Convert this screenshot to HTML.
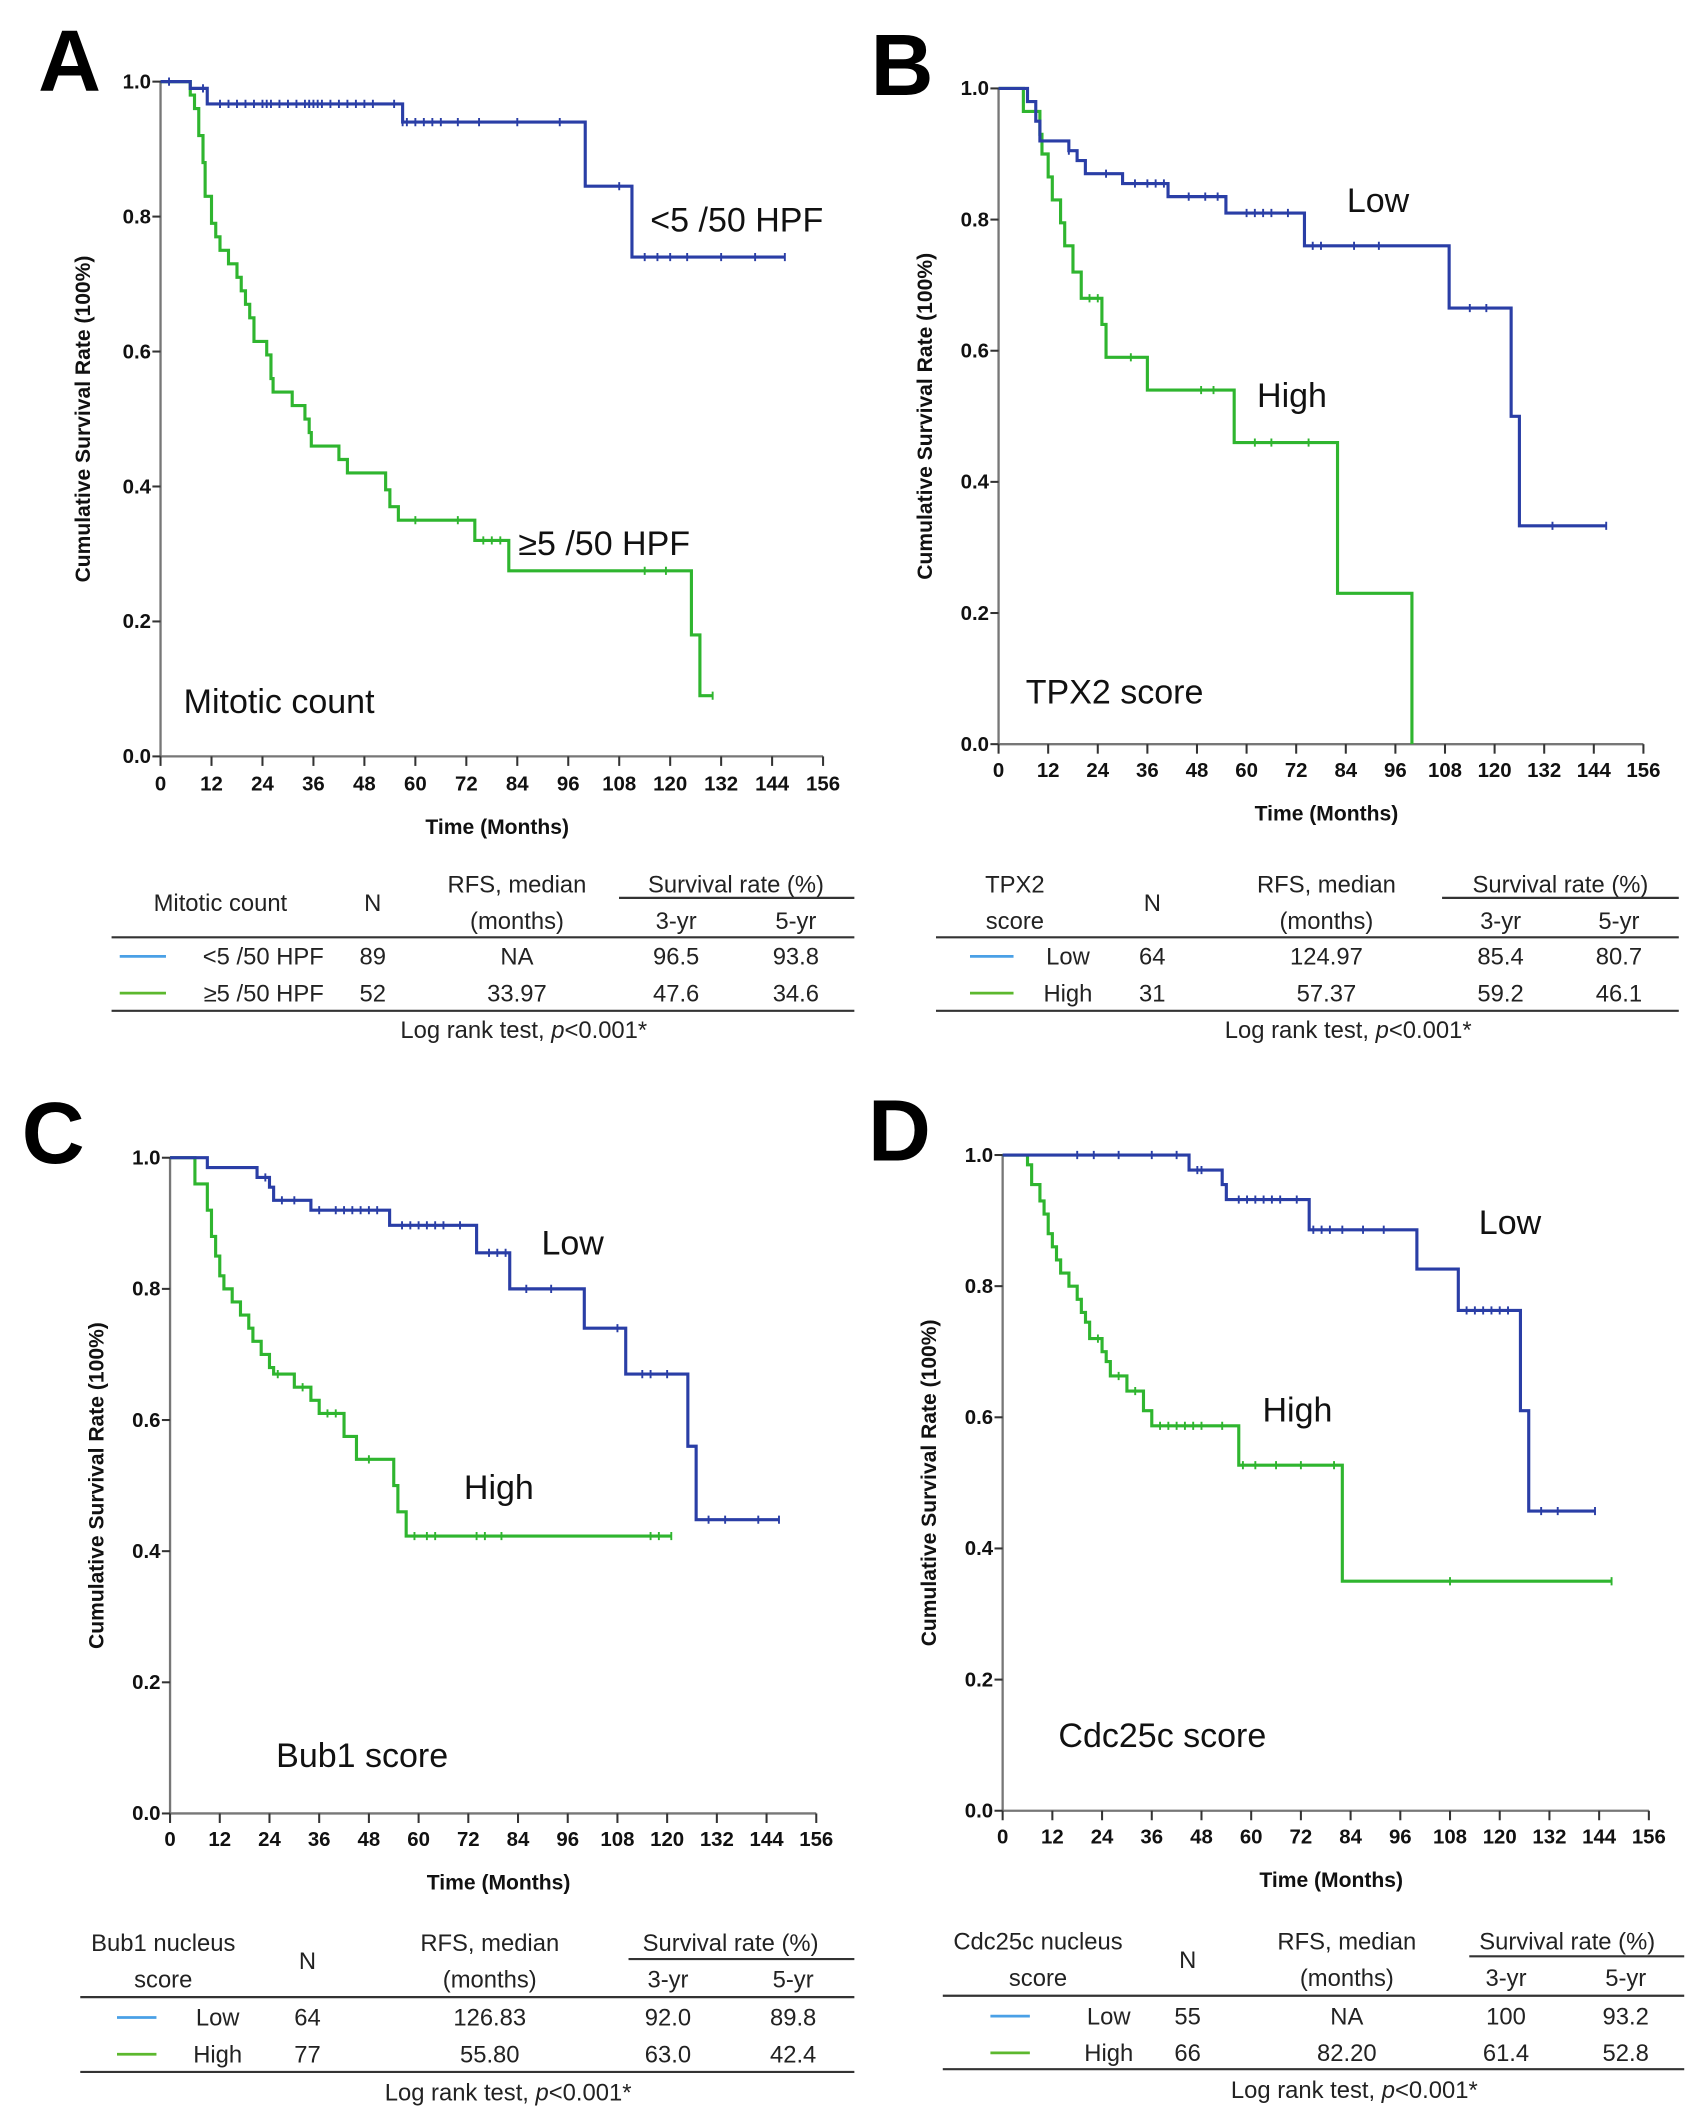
<!DOCTYPE html>
<html><head><meta charset="utf-8"><style>
html,body{margin:0;padding:0;background:#fff;}
svg{display:block;}
text{font-family:"Liberation Sans",sans-serif;}
.tick{font-family:"Liberation Sans Narrow","Liberation Sans",sans-serif;font-weight:bold;font-size:15px;fill:#111;}
.axt{font-weight:bold;font-size:15.5px;fill:#111;}
.tbl{font-size:17.5px;fill:#222;}
.ann{font-size:25px;fill:#111;}
.lbl{font-size:64px;fill:#000;font-weight:bold;}
</style></head><body>
<svg id="fig" xmlns="http://www.w3.org/2000/svg" width="1706" height="2125" viewBox="0 0 1254 1562">
<rect width="1254" height="1562" fill="#fff"/>
</svg>
<script>
// ---- data (time in months, survival proportion) ----
const xTicks=[0,12,24,36,48,60,72,84,96,108,120,132,144,156];
const yTicks=[0,0.2,0.4,0.6,0.8,1.0];
const yTickLabels=["0.0","0.2","0.4","0.6","0.8","1.0"];
// Panel A
const aLowT=[7,11,57,100,111];
const aLowS=[0.99,0.967,0.94,0.845,0.74];
const aLowEnd=147;
const aLowCens=[2,10,14,16,18,20,22,24,25,26,28,30,32,34,35,36,37,38,40,42,44,46,48,50,55,57,58,60,62,64,66,70,75,84,94,108,114,117,120,124,132,140,147];
const aHighT=[7,8,9,10,10.5,12,13,14,16,18,19,20,21,22,25,26,26.5,31,34,35,35.5,42,44,53,54,56,74,82,125,127];
const aHighS=[0.98,0.96,0.92,0.88,0.83,0.79,0.77,0.75,0.73,0.71,0.69,0.67,0.65,0.615,0.595,0.56,0.54,0.52,0.5,0.48,0.46,0.44,0.42,0.395,0.37,0.35,0.32,0.275,0.18,0.09];
const aHighEnd=130;
const aHighCens=[60,70,76,78,80,114,119,130];
// Panel B
const bLowT=[7,9,10,17,19,21,30,41,55,74,109,124,126];
const bLowS=[0.98,0.95,0.92,0.905,0.89,0.87,0.855,0.835,0.81,0.76,0.665,0.5,0.333];
const bLowEnd=147;
const bLowCens=[17,26,33,36,38,40,46,50,53,60,62,64,66,70,76,78,86,92,114,118,134,147];
const bHighT=[6,10,10.5,12,13,15,16,18,20,25,26,36,57,82,100];
const bHighS=[0.965,0.93,0.9,0.865,0.83,0.795,0.76,0.72,0.68,0.64,0.59,0.54,0.46,0.23,0.0];
const bHighEnd=100;
const bHighCens=[22,24,32,49,52,62,66,75];
// Panel C
const cLowT=[9,21,24,25,34,53,74,82,100,110,125,127];
const cLowS=[0.985,0.97,0.955,0.935,0.92,0.897,0.855,0.8,0.74,0.67,0.56,0.448];
const cLowEnd=147;
const cLowCens=[23,27,30,36,40,42,44,46,48,50,56,58,60,62,64,66,70,77,79,81,86,92,108,114,116,120,130,134,142,147];
const cHighT=[6,9,10,11,12,13,15,17,19,20,22,24,25,30,34,36,42,45,54,55,57];
const cHighS=[0.96,0.92,0.88,0.85,0.82,0.8,0.78,0.76,0.74,0.72,0.7,0.68,0.67,0.65,0.63,0.61,0.575,0.54,0.5,0.46,0.423];
const cHighEnd=121;
const cHighCens=[26,32,38,40,48,59,62,64,74,76,80,116,118,121];
// Panel D
const dLowT=[45,53,54,74,100,110,125,127];
const dLowS=[0.977,0.955,0.932,0.886,0.826,0.763,0.61,0.457];
const dLowEnd=143;
const dLowCens=[18,22,28,36,42,47,48,57,59,61,63,65,67,71,75,77,79,82,87,92,112,114,116,118,120,122,130,134,143];
const dHighT=[6,7,9,10,11,12,13,14,16,18,19,20,21,24,25,26,30,34,36,57,82];
const dHighS=[0.985,0.955,0.93,0.91,0.88,0.86,0.84,0.82,0.8,0.78,0.76,0.745,0.72,0.7,0.685,0.663,0.64,0.61,0.587,0.527,0.35];
const dHighEnd=147;
const dHighCens=[23,28,32,38,40,42,44,46,48,53,58,61,66,72,80,108,147];

const NS="http://www.w3.org/2000/svg";
const svg=document.getElementById('fig');
function mk(tag,attrs,parent,txt){const e=document.createElementNS(NS,tag);for(const k in attrs)e.setAttribute(k,attrs[k]);if(txt!==undefined)e.textContent=txt;(parent||svg).appendChild(e);return e;}

const BLUE="#2a3ea6",GREEN="#2fb52f";
const panels=[
 {id:"a",letter:"A",lx:28,ly:67,x0:118,x1:605,yt:60,yb:556,tickY:581,titleY:613,ytX:66,
  low:[aLowT,aLowS,aLowEnd,aLowCens],high:[aHighT,aHighS,aHighEnd,aHighCens],
  anns:[["<5 /50 HPF",478,170],["≥5 /50 HPF",381,408],["Mitotic count",135,524]]},
 {id:"b",letter:"B",lx:640,ly:70,x0:734,x1:1208,yt:65,yb:547,tickY:571,titleY:603,ytX:685,
  low:[bLowT,bLowS,bLowEnd,bLowCens],high:[bHighT,bHighS,bHighEnd,bHighCens],
  anns:[["Low",990,156],["High",924,299],["TPX2 score",754,517]]},
 {id:"c",letter:"C",lx:16,ly:855,x0:125,x1:600,yt:851,yb:1333,tickY:1357,titleY:1389,ytX:76,
  low:[cLowT,cLowS,cLowEnd,cLowCens],high:[cHighT,cHighS,cHighEnd,cHighCens],
  anns:[["Low",398,922],["High",341,1102],["Bub1 score",203,1299]]},
 {id:"d",letter:"D",lx:638,ly:853,x0:737,x1:1212,yt:849,yb:1331,tickY:1355,titleY:1387,ytX:688,
  low:[dLowT,dLowS,dLowEnd,dLowCens],high:[dHighT,dHighS,dHighEnd,dHighCens],
  anns:[["Low",1087,907],["High",928,1045],["Cdc25c score",778,1284]]}
];

function drawCurve(g,p,data,color,name){
  const [T,S,end,C]=data;
  const X=t=>p.x0+(p.x1-p.x0)*t/156;
  const Y=s=>p.yb-(p.yb-p.yt)*s;
  let d="M"+X(0)+","+Y(1);
  for(let i=0;i<T.length;i++){d+=" H"+X(T[i])+" V"+Y(S[i]);}
  d+=" H"+X(end);
  const path=mk('path',{d:d,fill:"none",stroke:color,"stroke-width":2.3},g);
  
  
  const sv=t=>{let s=1;for(let i=0;i<T.length;i++){if(T[i]<=t)s=S[i];}return s;};
  let cd="";
  C.forEach(t=>{const y=Y(sv(t));cd+=" M"+X(t)+","+(y-3)+" V"+(y+3);});
  const cp=mk('path',{d:cd,stroke:color,"stroke-width":1.4,fill:"none"},g);
  
  
}

panels.forEach(p=>{
  const g=mk('g',{});
  
  
  const L=mk('text',{x:p.lx,y:p.ly,class:"lbl"},g,p.letter);
  
  
  const X=t=>p.x0+(p.x1-p.x0)*t/156;
  const Y=s=>p.yb-(p.yb-p.yt)*s;
  const ax=mk('path',{d:`M${p.x0},${p.yt} V${p.yb} H${p.x1}`,stroke:"#777","stroke-width":1.7,fill:"none"},g);
  
  
  xTicks.forEach(t=>{
    mk('line',{x1:X(t),x2:X(t),y1:p.yb,y2:p.yb+7,stroke:"#333","stroke-width":1.5},g);
    const tx=mk('text',{x:X(t),y:p.tickY,class:"tick","text-anchor":"middle"},g,String(t));
    
    
  });
  yTicks.forEach((v,i)=>{
    mk('line',{x1:p.x0-6,x2:p.x0,y1:Y(v),y2:Y(v),stroke:"#333","stroke-width":1.5},g);
    const ty=mk('text',{x:p.x0-7,y:Y(v)+5,class:"tick","text-anchor":"end"},g,yTickLabels[i]);
    
    
  });
  const xt=mk('text',{x:(p.x0+p.x1)/2+4,y:p.titleY,class:"axt","text-anchor":"middle"},g,"Time (Months)");
  
  
  const yc=(p.yt+p.yb)/2;
  const yt=mk('text',{x:p.ytX,y:yc,class:"axt","text-anchor":"middle",transform:`rotate(-90 ${p.ytX} ${yc})`},g,"Cumulative Survival Rate (100%)");
  
  
  drawCurve(g,p,p.high,GREEN,'high-group');
  drawCurve(g,p,p.low,BLUE,'low-group');
  p.anns.forEach((a,i)=>{
    const t=mk('text',{x:a[1],y:a[2],class:"ann","font-size":i==2?28:25},g,a[0]);
    
    
  });
});

// ---- tables ----
const tables=[
 {id:"a",l:82,r:628,uL:455,h1:650,h2:677,ul:660,top:689,r1:703,r2:730,bot:743,log:757,
  cLab:162,cN:274,cRFS:380,c3:497,c5:585,cSurv:541,lg:[88,122],rowLab:238,rowAnchor:"end",
  head:["Mitotic count",null],rows:[["<5 /50 HPF","89","NA","96.5","93.8"],["≥5 /50 HPF","52","33.97","47.6","34.6"]]},
 {id:"b",l:688,r:1234,uL:1060,h1:650,h2:677,ul:660,top:689,r1:703,r2:730,bot:743,log:757,
  cLab:746,cN:847,cRFS:975,c3:1103,c5:1190,cSurv:1147,lg:[713,745],rowLab:785,rowAnchor:"middle",
  head:["TPX2","score"],rows:[["Low","64","124.97","85.4","80.7"],["High","31","57.37","59.2","46.1"]]},
 {id:"c",l:59,r:628,uL:462,h1:1428,h2:1455,ul:1440,top:1468,r1:1483,r2:1510,bot:1523,log:1538,
  cLab:120,cN:226,cRFS:360,c3:491,c5:583,cSurv:537,lg:[86,115],rowLab:160,rowAnchor:"middle",
  head:["Bub1 nucleus","score"],rows:[["Low","64","126.83","92.0","89.8"],["High","77","55.80","63.0","42.4"]]},
 {id:"d",l:693,r:1238,uL:1080,h1:1427,h2:1454,ul:1438,top:1467,r1:1482,r2:1509,bot:1521,log:1536,
  cLab:763,cN:873,cRFS:990,c3:1107,c5:1195,cSurv:1152,lg:[728,757],rowLab:815,rowAnchor:"middle",
  head:["Cdc25c nucleus","score"],rows:[["Low","55","NA","100","93.2"],["High","66","82.20","61.4","52.8"]]}
];
tables.forEach(t=>{
  const g=mk('g',{class:"tbl"});
  
  
  const tx=(s,x,y,a)=>mk('text',{x:x,y:y+6,"text-anchor":a||"middle",class:"tbl"},g,s);
  const mid=(t.h1+t.h2)/2;
  if(t.head[1]){tx(t.head[0],t.cLab,t.h1);tx(t.head[1],t.cLab,t.h2);}else tx(t.head[0],t.cLab,mid);
  tx("N",t.cN,mid);
  tx("RFS, median",t.cRFS,t.h1);tx("(months)",t.cRFS,t.h2);
  tx("Survival rate (%)",t.cSurv,t.h1);tx("3-yr",t.c3,t.h2);tx("5-yr",t.c5,t.h2);
  mk('line',{x1:t.uL,x2:t.r,y1:t.ul,y2:t.ul,stroke:"#333","stroke-width":1.6},g);
  mk('line',{x1:t.l,x2:t.r,y1:t.top,y2:t.top,stroke:"#333","stroke-width":1.6},g);
  mk('line',{x1:t.l,x2:t.r,y1:t.bot,y2:t.bot,stroke:"#333","stroke-width":1.6},g);
  [t.r1,t.r2].forEach((y,i)=>{
    const lg=mk('line',{x1:t.lg[0],x2:t.lg[1],y1:y,y2:y,stroke:i==0?"#4aa0e6":"#5cb82e","stroke-width":2},g);
    
    
    const r=t.rows[i];
    tx(r[0],t.rowLab,y,t.rowAnchor);tx(r[1],t.cN,y);tx(r[2],t.cRFS,y);tx(r[3],t.c3,y);tx(r[4],t.c5,y);
  });
  const lr=mk('text',{x:(t.l+t.r)/2+30,y:t.log+6,"text-anchor":"middle",class:"tbl"},g);
  
  
  lr.appendChild(document.createTextNode("Log rank test, "));
  mk('tspan',{"font-style":"italic"},lr,"p");
  lr.appendChild(document.createTextNode("<0.001*"));
});
</script>
</body></html>
